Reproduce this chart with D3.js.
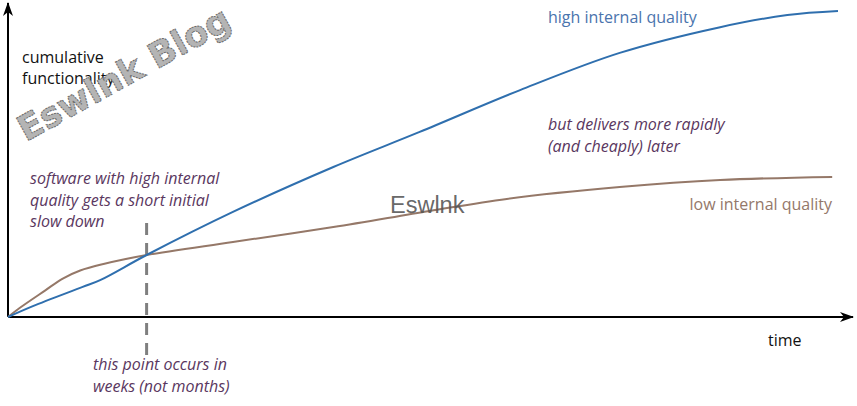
<!DOCTYPE html>
<html><head><meta charset="utf-8">
<script src="https://cdn.jsdelivr.net/npm/d3@7"></script>
<style>body{margin:0;background:#fff}svg{display:block}</style>
</head><body>
<script>
// Data (time in arbitrary units 0-100, functionality 0-100)
const highTime = [0, 3, 9, 11.1, 16.7, 27.1, 39.2, 49.6, 61.7, 73.7, 85.8, 93.9, 100];
const highValues = [0, 3.5, 9.7, 11.9, 20, 33.9, 48.4, 59.7, 73.2, 85.2, 93.5, 97.4, 98.7];
const lowTime = [0, 1.4, 4.5, 6.6, 8.7, 11.5, 16.7, 27.1, 39.2, 50.8, 60.1, 73.7, 85.8, 99.3];
const lowValues = [0, 2.9, 8.6, 12.4, 15.0, 17.1, 20, 24.2, 29, 34.2, 38.1, 41.9, 44.2, 45.2];
const crossTime = 16.7;
const seriesLabels = ["high internal quality", "low internal quality"];
const axisLabels = {y: ["cumulative", "functionality"], x: "time"};
const noteStart = ["software with high internal", "quality gets a short initial", "slow down"];
const noteLater = ["but delivers more rapidly", "(and cheaply) later"];
const notePoint = ["this point occurs in", "weeks (not months)"];

const W = 857, H = 406;
const svg = d3.select("body").append("svg").attr("width", W).attr("height", H);
const x = d3.scaleLinear().domain([0, 100]).range([8, 838]);
const y = d3.scaleLinear().domain([0, 100]).range([317, 7]);

const defs = svg.append("defs");
defs.append("marker").attr("id", "arr").attr("viewBox", "0 0 14 10")
  .attr("refX", 13).attr("refY", 5).attr("markerWidth", 14).attr("markerHeight", 10)
  .attr("markerUnits", "userSpaceOnUse").attr("orient", "auto")
  .append("path").attr("d", "M0,0 L14,5 L0,10 L4,5 Z").attr("fill", "#000");

const font = "'Open Sans', sans-serif";

// crossover dashed line
svg.append("line").attr("x1", x(crossTime)).attr("x2", x(crossTime))
  .attr("y1", 223).attr("y2", 356)
  .attr("stroke", "#7f7f7f").attr("stroke-width", 3).attr("stroke-dasharray", "12,8");

// axes
svg.append("line").attr("x1", x(0)).attr("y1", y(0)).attr("x2", x(0)).attr("y2", 3)
  .attr("stroke", "#000").attr("stroke-width", 2).attr("marker-end", "url(#arr)");
svg.append("line").attr("x1", x(0)).attr("y1", y(0)).attr("x2", 853).attr("y2", y(0))
  .attr("stroke", "#000").attr("stroke-width", 2).attr("marker-end", "url(#arr)");

const line = d3.line().curve(d3.curveCatmullRom.alpha(0.5)).x(d => x(d[0])).y(d => y(d[1]));
svg.append("path").datum(d3.zip(lowTime, lowValues)).attr("d", line)
  .attr("fill", "none").attr("stroke", "#957868").attr("stroke-width", 2);
svg.append("path").datum(d3.zip(highTime, highValues)).attr("d", line)
  .attr("fill", "none").attr("stroke", "#2f6fae").attr("stroke-width", 2);

// watermark center
svg.append("text").attr("x", 390).attr("y", 213).text("Eswlnk")
  .attr("font-family", "'Liberation Sans', Arial, sans-serif").attr("font-size", 23.5)
  .attr("fill", "#555").attr("fill-opacity", 0.9);

// axis labels
const yl = svg.append("text").attr("font-family", font).attr("font-size", 16).attr("fill", "#111");
axisLabels.y.forEach((t, i) => yl.append("tspan").attr("x", 22).attr("y", 63 + i * 21).text(t));
svg.append("text").attr("x", 768).attr("y", 346).text(axisLabels.x)
  .attr("font-family", font).attr("font-size", 16).attr("fill", "#111");

// series labels
svg.append("text").attr("x", 548).attr("y", 23).text(seriesLabels[0])
  .attr("font-family", font).attr("font-size", 16).attr("fill", "#4a74ad");
svg.append("text").attr("x", 832).attr("y", 210).attr("text-anchor", "end").text(seriesLabels[1])
  .attr("font-family", font).attr("font-size", 16).attr("fill", "#94786a");

function note(lines, x0, y0) {
  const t = svg.append("text").attr("font-family", font).attr("font-size", 16)
    .attr("font-style", "italic").attr("fill", "#5a3760");
  lines.forEach((s, i) => t.append("tspan").attr("x", x0).attr("y", y0 + i * 21.5).text(s));
}
note(noteStart, 30, 184);
note(noteLater, 548, 130);
note(notePoint, 93, 370);

// rotated blog watermark
svg.append("text").attr("transform", "translate(26,142) rotate(-29)")
  .text("Eswlnk  Blog")
  .attr("font-family", "'DejaVu Sans', Verdana, sans-serif").attr("font-weight", "bold")
  .attr("font-size", 35).attr("fill", "#b4b4b4").attr("stroke", "#6a6a6a")
  .attr("stroke-width", 1).attr("stroke-dasharray", "2,1");
</script>
</body></html>
